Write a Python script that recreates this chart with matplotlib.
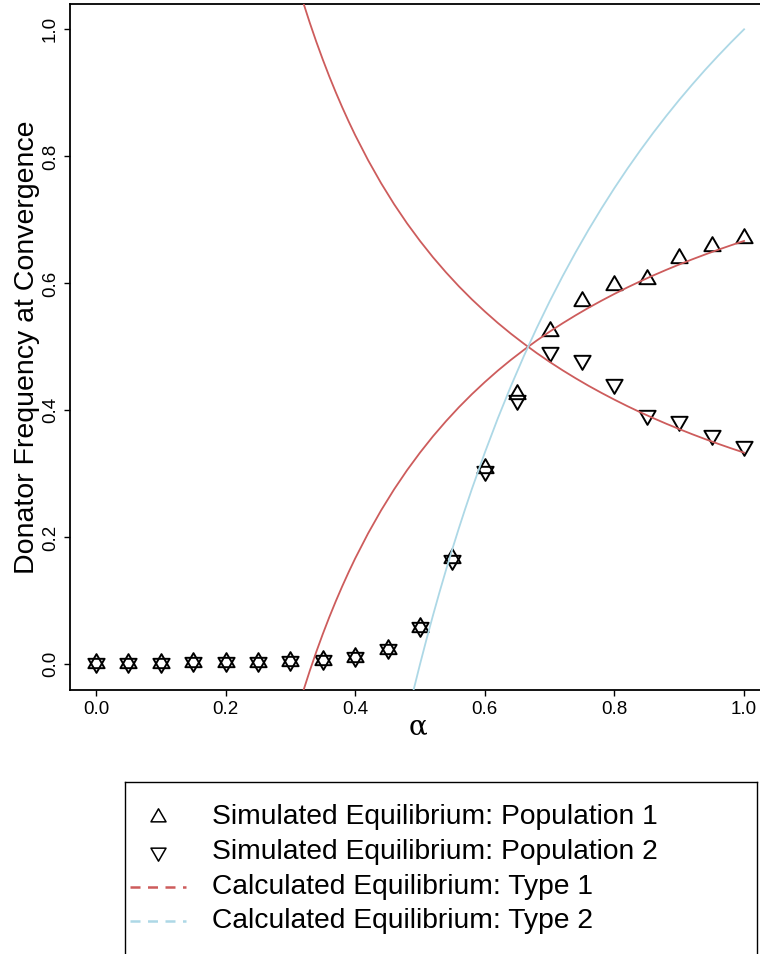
import matplotlib.pyplot as plt
from matplotlib.path import Path

plt.rcParams['font.family'] = ['Liberation Sans', 'DejaVu Sans']

# simulated donator frequencies at convergence, one run per alpha
alpha = [0.00, 0.05, 0.10, 0.15, 0.20, 0.25, 0.30, 0.35, 0.40, 0.45, 0.50,
         0.55, 0.60, 0.65, 0.70, 0.75, 0.80, 0.85, 0.90, 0.95, 1.00]
pop1 = [0.002, 0.002, 0.002, 0.003, 0.004, 0.004, 0.005, 0.006, 0.012, 0.024, 0.058,
        0.167, 0.309, 0.426, 0.525, 0.572, 0.597, 0.607, 0.640, 0.658, 0.671]
pop2 = [0.002, 0.002, 0.002, 0.003, 0.004, 0.004, 0.005, 0.006, 0.012, 0.024, 0.058,
        0.165, 0.304, 0.416, 0.492, 0.479, 0.441, 0.393, 0.383, 0.361, 0.344]

# calculated equilibria (type 1 has an upper and a lower branch)
type1_alpha = [0.30, 0.31, 0.32, 0.33, 0.34, 0.35, 0.36, 0.37, 0.38, 0.39, 0.40,
               0.42, 0.44, 0.46, 0.48, 0.50, 0.52, 0.54, 0.56, 0.58, 0.60,
               0.62, 0.64, 0.66, 0.68, 0.70, 0.72, 0.74, 0.76, 0.78, 0.80,
               0.82, 0.84, 0.86, 0.88, 0.90, 0.92, 0.94, 0.96, 0.98, 1.00]
type1_high = [1.1111, 1.0753, 1.0417, 1.0101, 0.9804, 0.9524, 0.9259, 0.9009, 0.8772, 0.8547, 0.8333,
              0.7937, 0.7576, 0.7246, 0.6944, 0.6667, 0.6410, 0.6173, 0.5952, 0.5747, 0.5556,
              0.5376, 0.5208, 0.5051, 0.4902, 0.4762, 0.4630, 0.4505, 0.4386, 0.4274, 0.4167,
              0.4065, 0.3968, 0.3876, 0.3788, 0.3704, 0.3623, 0.3546, 0.3472, 0.3401, 0.3333]
type1_low = [-0.1111, -0.0753, -0.0417, -0.0101, 0.0196, 0.0476, 0.0741, 0.0991, 0.1228, 0.1453, 0.1667,
             0.2063, 0.2424, 0.2754, 0.3056, 0.3333, 0.3590, 0.3827, 0.4048, 0.4253, 0.4444,
             0.4624, 0.4792, 0.4949, 0.5098, 0.5238, 0.5370, 0.5495, 0.5614, 0.5726, 0.5833,
             0.5935, 0.6032, 0.6124, 0.6212, 0.6296, 0.6377, 0.6454, 0.6528, 0.6599, 0.6667]
type2_alpha = [0.48, 0.49, 0.50, 0.51, 0.52, 0.53, 0.54, 0.55, 0.56, 0.57, 0.58,
               0.60, 0.62, 0.64, 0.66, 0.68, 0.70, 0.72, 0.74, 0.76, 0.78, 0.80,
               0.82, 0.84, 0.86, 0.88, 0.90, 0.92, 0.94, 0.96, 0.98, 1.00]
type2_freq = [-0.0833, -0.0408, 0.0, 0.0392, 0.0769, 0.1132, 0.1481, 0.1818, 0.2143, 0.2456, 0.2759,
              0.3333, 0.3871, 0.4375, 0.4848, 0.5294, 0.5714, 0.6111, 0.6486, 0.6842, 0.7179, 0.75,
              0.7805, 0.8095, 0.8372, 0.8636, 0.8889, 0.9130, 0.9362, 0.9583, 0.9796, 1.0]

labels = ["Simulated Equilibrium: Population 1",
          "Simulated Equilibrium: Population 2",
          "Calculated Equilibrium: Type 1",
          "Calculated Equilibrium: Type 2"]

RED = '#CD5C5C'
BLUE = '#ADD8E6'

# R-style triangles, centred on the centroid
tri_up = Path([(0, 1), (-0.866, -0.5), (0.866, -0.5), (0, 1)], closed=True)
tri_down = Path([(0, -1), (-0.866, 0.5), (0.866, 0.5), (0, -1)], closed=True)

W, H = 760, 954
fig = plt.figure(figsize=(W / 100, H / 100 + 0.001), dpi=100)
ax = fig.add_axes([70 / W, (H - 689.7) / H, 700 / W, 685.7 / H])

ax.plot(alpha, pop1, linestyle='none', marker=tri_up, ms=13.5, mfc='none',
        mec='black', mew=1.4, zorder=3)
ax.plot(alpha, pop2, linestyle='none', marker=tri_down, ms=13.5, mfc='none',
        mec='black', mew=1.4, zorder=3)
ax.plot(type1_alpha, type1_high, color=RED, lw=1.3, zorder=4)
ax.plot(type1_alpha, type1_low, color=RED, lw=1.3, zorder=4)
ax.plot(type2_alpha, type2_freq, color=BLUE, lw=1.3, zorder=4)

ax.set_xlim(-0.04, 1.04)
ax.set_ylim(-0.04, 1.04)
ax.set_xticks([0.0, 0.2, 0.4, 0.6, 0.8, 1.0])
ax.set_yticks([0.0, 0.2, 0.4, 0.6, 0.8, 1.0])
ax.set_xticklabels(['0.0', '0.2', '0.4', '0.6', '0.8', '1.0'])
ax.set_yticklabels(['0.0', '0.2', '0.4', '0.6', '0.8', '1.0'],
                   rotation=90, va='center')
ax.tick_params(length=4.5, width=1.0, labelsize=13.5, pad=3.5)
for sp in ax.spines.values():
    sp.set_linewidth(1.3)
ax.spines['right'].set_visible(False)

ax.set_ylabel("Donator Frequency at Convergence", fontsize=20.5, va='center')
ax.yaxis.set_label_coords((27 - 70) / 700, 0.5)
ax.set_xlabel(r"α", fontsize=20, family='DejaVu Serif', va='center')
ax.xaxis.set_label_coords((418 - 70) / 700, -37.3 / 685.7)

# legend box below the plot; its lower edge runs off the page
lax = fig.add_axes([125 / W, -0.05, 632 / W, (H - 782) / H + 0.05])
lax.set_xlim(0, 632)
lax.set_ylim(H - 782 + 0.05 * H, 0)
lax.set_xticks([])
lax.set_yticks([])
lax.patch.set_alpha(0)
for sp in lax.spines.values():
    sp.set_linewidth(1.0)
rows = [35, 70, 105, 139]
lax.plot([33], [rows[0]], linestyle='none', marker=tri_up, ms=12.5, mfc='none',
         mec='black', mew=1.1)
lax.plot([33], [rows[1]], linestyle='none', marker=tri_down, ms=12.5, mfc='none',
         mec='black', mew=1.1)
lax.plot([5, 61], [rows[2], rows[2]], color=RED, lw=1.8, dashes=(4, 3))
lax.plot([5, 61], [rows[3], rows[3]], color=BLUE, lw=1.8, dashes=(4, 3))
for y, lab in zip(rows, labels):
    lax.text(87, y, lab, fontsize=20.3, va='center', ha='left')

fig.savefig('out.png', dpi=100)
